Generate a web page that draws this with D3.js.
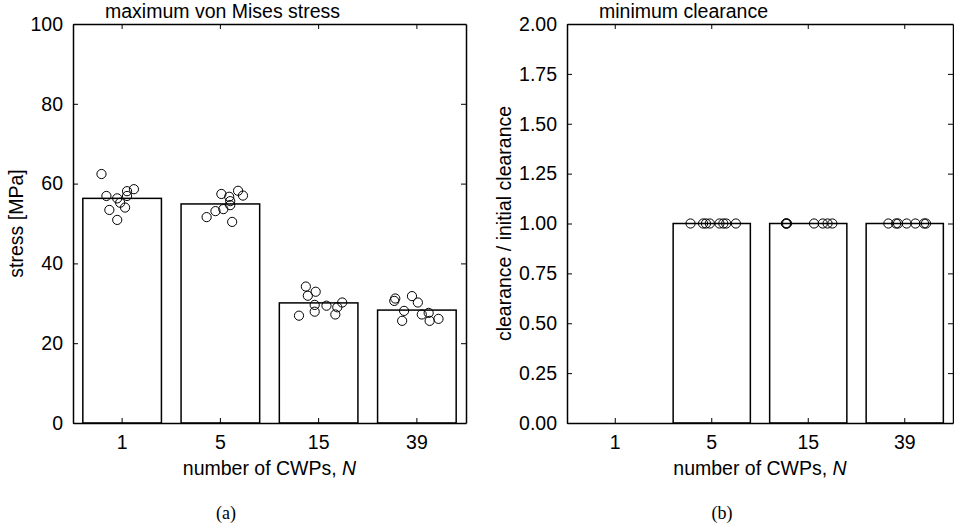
<!DOCTYPE html>
<html>
<head>
<meta charset="utf-8">
<script src="https://cdn.jsdelivr.net/npm/d3@7"></script>
<style>
  body { margin: 0; background: #fff; }
  svg text { font-family: "Liberation Sans", Arial, sans-serif; fill: #000; }
  .caption { font-family: "Liberation Serif", "DejaVu Serif", serif !important; }
</style>
</head>
<body>
<svg id="chart" width="954" height="526"></svg>
<script>
const categories = ["1", "5", "15", "39"]

// panel (a): max von Mises stress [MPa]
const stressMean = [56.3, 54.9, 30.1, 28.3]
const stressPoints = [
  [62.4, 56.9, 56.3, 58.1, 58.6, 56.9, 55.2, 54.0, 53.4, 50.9],
  [57.4, 56.7, 58.2, 57.0, 55.6, 54.6, 53.6, 53.1, 51.6, 50.4],
  [34.2, 32.9, 31.9, 29.6, 27.9, 29.4, 30.2, 29.0, 27.2, 26.9],
  [31.2, 30.6, 31.8, 30.2, 28.1, 27.2, 27.6, 25.6, 26.1, 25.6]
]
const stressJitter = [
  [-0.21, -0.16, -0.05, 0.05, 0.12, 0.05, -0.02, 0.03, -0.13, -0.05],
  [0.01, 0.09, 0.18, 0.23, 0.10, 0.10, 0.03, -0.05, -0.14, 0.12],
  [-0.13, -0.03, -0.11, -0.04, -0.04, 0.08, 0.24, 0.19, 0.17, -0.20],
  [-0.22, -0.23, -0.05, 0.01, -0.13, 0.05, 0.12, 0.13, 0.22, -0.15]
]
const stressTicks = [0, 20, 40, 60, 80, 100]

// panel (b): min clearance / initial clearance
const clearanceMean = [null, 1.0, 1.0, 1.0]
const clearancePoints = [
  [],
  [1, 1, 1, 1, 1, 1, 1, 1],
  [1, 1, 1, 1, 1, 1, 1],
  [1, 1, 1, 1, 1, 1, 1]
]
const clearanceJitter = [
  [],
  [-0.22, -0.09, -0.06, -0.02, 0.08, 0.12, 0.15, 0.25],
  [-0.23, -0.23, -0.22, 0.06, 0.15, 0.20, 0.25],
  [-0.17, -0.09, -0.07, 0.02, 0.11, 0.20, 0.22]
]
const clearanceTicks = [0, 0.25, 0.5, 0.75, 1.0, 1.25, 1.5, 1.75, 2.0]

const svg = d3.select("#chart")
const fontSize = "19.5px"

const drawPanel = (opts) => {
  const { left, right, top, bottom, domain, ticks, fmt, means, points, jitter, title, ylabel, ylabelX, caption } = opts

  const x = d3.scaleBand().domain(categories).range([left, right]).padding(0)
  const y = d3.scaleLinear().domain(domain).range([bottom, top])
  const bw = x.bandwidth()
  const barW = bw * 0.8

  const g = svg.append("g")

  // bars
  const bars = categories.map((c, i) => ({ c, v: means[i] })).filter(d => d.v != null)
  g.selectAll(".bar")
    .data(bars)
    .enter()
    .append("rect")
    .classed("bar", true)
    .attr("x", d => x(d.c) + (bw - barW) / 2)
    .attr("width", barW)
    .attr("y", d => y(d.v))
    .attr("height", d => y(domain[0]) - y(d.v))
    .attr("fill", "#fff")
    .attr("stroke", "#000")
    .attr("stroke-width", 1.5)

  // scatter of individual runs
  const pts = []
  categories.forEach((c, i) => {
    points[i].forEach((v, j) => pts.push({ c, v, j: jitter[i][j] }))
  })
  g.selectAll(".pt")
    .data(pts)
    .enter()
    .append("circle")
    .classed("pt", true)
    .attr("cx", d => x(d.c) + bw * (0.5 + d.j))
    .attr("cy", d => y(d.v))
    .attr("r", 4.6)
    .attr("fill", "none")
    .attr("stroke", "#000")
    .attr("stroke-width", 1)

  // axes, ticks pointing inward on all sides
  const axL = g.append("g").attr("transform", `translate(${left},0)`)
    .call(d3.axisLeft(y).tickValues(ticks).tickFormat(fmt).tickSizeInner(-5).tickSizeOuter(0).tickPadding(10))
  const axR = g.append("g").attr("transform", `translate(${right},0)`)
    .call(d3.axisRight(y).tickValues(ticks).tickFormat("").tickSizeInner(-5).tickSizeOuter(0))
  const axB = g.append("g").attr("transform", `translate(0,${bottom})`)
    .call(d3.axisBottom(x).tickSizeInner(-5).tickSizeOuter(0).tickPadding(12))
  const axT = g.append("g").attr("transform", `translate(0,${top})`)
    .call(d3.axisTop(x).tickFormat("").tickSizeInner(-5).tickSizeOuter(0))

  ;[axL, axR, axB, axT].forEach(a => {
    a.select(".domain").attr("stroke", "#000").attr("stroke-width", 1.5)
    a.selectAll(".tick line").attr("stroke", "#000").attr("stroke-width", 1)
    a.selectAll(".tick text").style("font-size", fontSize).attr("fill", "#000")
  })

  g.append("text")
    .attr("x", left + 32)
    .attr("y", top - 6)
    .style("font-size", fontSize)
    .text(title)

  g.append("text")
    .attr("transform", `translate(${ylabelX},${(top + bottom) / 2}) rotate(-90)`)
    .attr("text-anchor", "middle")
    .style("font-size", fontSize)
    .text(ylabel)

  const xl = g.append("text")
    .attr("x", (left + right) / 2)
    .attr("y", bottom + 52)
    .attr("text-anchor", "middle")
    .style("font-size", fontSize)
  xl.append("tspan").text("number of CWPs, ")
  xl.append("tspan").style("font-style", "italic").text("N")

  g.append("text")
    .classed("caption", true)
    .attr("x", opts.captionX)
    .attr("y", 519)
    .attr("text-anchor", "middle")
    .style("font-size", "18px")
    .text(caption)
}

drawPanel({
  left: 73, right: 466, top: 24, bottom: 423,
  domain: [0, 100], ticks: stressTicks, fmt: d3.format("d"),
  means: stressMean, points: stressPoints, jitter: stressJitter,
  title: "maximum von Mises stress", ylabel: "stress [MPa]", ylabelX: 23,
  caption: "(a)", captionX: 226
})

drawPanel({
  left: 567, right: 953, top: 24, bottom: 423,
  domain: [0, 2], ticks: clearanceTicks, fmt: d3.format(".2f"),
  means: clearanceMean, points: clearancePoints, jitter: clearanceJitter,
  title: "minimum clearance", ylabel: "clearance / initial clearance", ylabelX: 511,
  caption: "(b)", captionX: 722
})
</script>
</body>
</html>
